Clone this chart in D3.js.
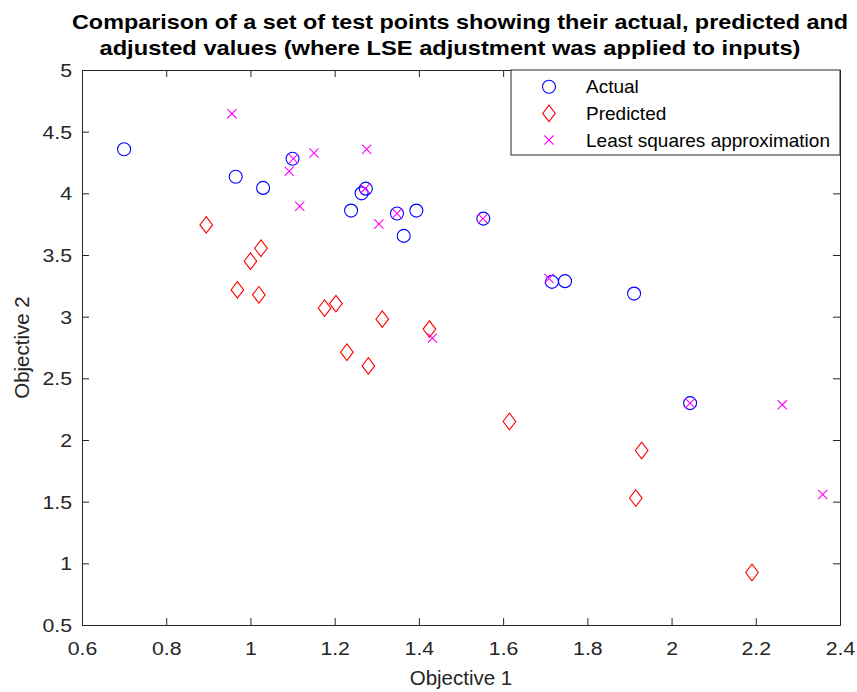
<!DOCTYPE html>
<html>
<head>
<meta charset="utf-8">
<script src="https://cdn.jsdelivr.net/npm/d3@7"></script>
<style>
  html, body { margin: 0; padding: 0; background: #fff; }
  text { font-family: "Liberation Sans", Arial, Helvetica, sans-serif; }
</style>
</head>
<body>
<div id="chart"></div>
<script>
// ---- Data ----
const actualX = [0.700, 0.965, 1.030, 1.100, 1.239, 1.264, 1.274, 1.348, 1.394, 1.364, 1.553, 1.716, 1.747, 1.911, 2.044];
const actualY = [4.357, 4.135, 4.044, 4.281, 3.860, 4.000, 4.038, 3.836, 3.860, 3.655, 3.795, 3.282, 3.288, 3.187, 2.299];

const predictedX = [0.895, 1.025, 1.000, 0.969, 1.020, 1.176, 1.203, 1.313, 1.425, 1.229, 1.280, 1.615, 1.929, 1.915, 2.191];
const predictedY = [3.744, 3.555, 3.450, 3.217, 3.177, 3.069, 3.106, 2.980, 2.899, 2.712, 2.601, 2.150, 1.915, 1.529, 0.926];

const lseX = [0.956, 1.102, 1.092, 1.151, 1.117, 1.276, 1.272, 1.305, 1.348, 1.432, 1.552, 1.709, 2.044, 2.263, 2.359];
const lseY = [4.646, 4.281, 4.179, 4.327, 3.895, 4.357, 4.038, 3.752, 3.836, 2.826, 3.795, 3.309, 2.299, 2.285, 1.558];

const xTicks = [0.6, 0.8, 1, 1.2, 1.4, 1.6, 1.8, 2, 2.2, 2.4];
const yTicks = [0.5, 1, 1.5, 2, 2.5, 3, 3.5, 4, 4.5, 5];
const seriesNames = ["Actual", "Predicted", "Least squares approximation"];
const seriesColors = ["#0000ff", "#ff0000", "#ff00ff"];
const titleLines = ["Comparison of a set of test points showing their actual, predicted and",
                    "adjusted values (where LSE adjustment was applied to inputs)"];
const xLabel = "Objective 1";
const yLabel = "Objective 2";

// ---- Layout ----
const W = 857, H = 692;
const L = 82, R = 840, T = 70, B = 625;
const axisColor = "#262626";
const tickScale = 1.15;

const svg = d3.select("#chart").append("svg")
  .attr("width", W).attr("height", H)
  .style("display", "block");

svg.append("rect").attr("width", W).attr("height", H).attr("fill", "#fff");

const x = d3.scaleLinear().domain([0.6, 2.4]).range([L, R]);
const y = d3.scaleLinear().domain([0.5, 5]).range([B, T]);

const tickLen = 7;
// Axes (MATLAB style: ticks inward, box on)
const gx = svg.append("g").attr("transform", `translate(0,${B})`)
  .call(d3.axisBottom(x).tickValues(xTicks).tickSize(-tickLen).tickPadding(tickLen + 10).tickFormat(d3.format("")));
const gxTop = svg.append("g").attr("transform", `translate(0,${T})`)
  .call(d3.axisTop(x).tickValues(xTicks).tickSize(-tickLen).tickFormat(""));
const gy = svg.append("g").attr("transform", `translate(${L},0)`)
  .call(d3.axisLeft(y).tickValues(yTicks).tickSize(-tickLen).tickPadding(tickLen + 3).tickFormat(d3.format("")));
const gyR = svg.append("g").attr("transform", `translate(${R},0)`)
  .call(d3.axisRight(y).tickValues(yTicks).tickSize(-tickLen).tickFormat(""));

[gx, gxTop, gy, gyR].forEach(g => {
  g.selectAll(".domain").attr("stroke", axisColor).attr("stroke-width", 1);
  g.selectAll(".tick line").attr("stroke", axisColor).attr("stroke-width", 1);
  g.selectAll(".tick text").attr("fill", axisColor)
    .style("font-family", '"Liberation Sans", Arial, sans-serif').style("font-size", "18.5px");
});
gx.selectAll(".tick text").attr("dy", "0.71em").attr("transform", `scale(${tickScale},1)`);
gy.selectAll(".tick text").attr("dy", "0.35em")
  .attr("x", -(tickLen + 3) / tickScale)
  .attr("transform", `scale(${tickScale},1)`);

// Axis labels
svg.append("text").attr("x", (L + R) / 2).attr("y", 685)
  .attr("text-anchor", "middle").attr("fill", axisColor)
  .style("font-size", "20.5px").text(xLabel);
svg.append("text")
  .attr("transform", `translate(29,${(T + B) / 2}) rotate(-90)`)
  .attr("text-anchor", "middle").attr("fill", axisColor)
  .style("font-size", "20.5px").text(yLabel);

// Title
const titleX = [72, 99.5], titleW = [776, 701], titleBase = [28.5, 55];
svg.append("g").selectAll("text").data(titleLines).join("text")
  .attr("x", (d, i) => titleX[i]).attr("y", (d, i) => titleBase[i])
  .attr("textLength", (d, i) => titleW[i]).attr("lengthAdjust", "spacingAndGlyphs")
  .attr("fill", "#000")
  .style("font-size", "21px").style("font-weight", "bold")
  .text(d => d);

// Marker shapes
function circleMarker(sel, c) {
  sel.append("circle").attr("r", 6.5).attr("fill", "none").attr("stroke", c).attr("stroke-width", 1.1);
}
function diamondMarker(sel, c) {
  sel.append("path").attr("d", "M0,-8.3L6.3,0L0,8.3L-6.3,0Z")
    .attr("fill", "none").attr("stroke", c).attr("stroke-width", 1.1);
}
function xMarker(sel, c) {
  sel.append("path").attr("d", "M-4.6,-4.6L4.6,4.6M-4.6,4.6L4.6,-4.6")
    .attr("fill", "none").attr("stroke", c).attr("stroke-width", 1.1);
}
const markerFns = [circleMarker, diamondMarker, xMarker];

const series = [
  actualX.map((v, i) => [v, actualY[i]]),
  predictedX.map((v, i) => [v, predictedY[i]]),
  lseX.map((v, i) => [v, lseY[i]])
];

series.forEach((pts, si) => {
  svg.append("g").selectAll("g").data(pts).join("g")
    .attr("transform", d => `translate(${x(d[0])},${y(d[1])})`)
    .each(function() { markerFns[si](d3.select(this), seriesColors[si]); });
});

// Legend
const lgX = 511, lgY = 70, lgW = 329, lgH = 85;
const lg = svg.append("g");
lg.append("rect").attr("x", lgX).attr("y", lgY).attr("width", lgW).attr("height", lgH)
  .attr("fill", "#fff").attr("stroke", axisColor).attr("stroke-width", 1);
seriesNames.forEach((name, i) => {
  const cy = 86.7 + i * 26.7;
  const m = lg.append("g").attr("transform", `translate(549,${cy})`);
  markerFns[i](m, seriesColors[i]);
  lg.append("text").attr("x", 586).attr("y", cy).attr("dy", "0.35em")
    .attr("fill", "#000").style("font-size", "19px").text(name);
});
</script>
</body>
</html>
